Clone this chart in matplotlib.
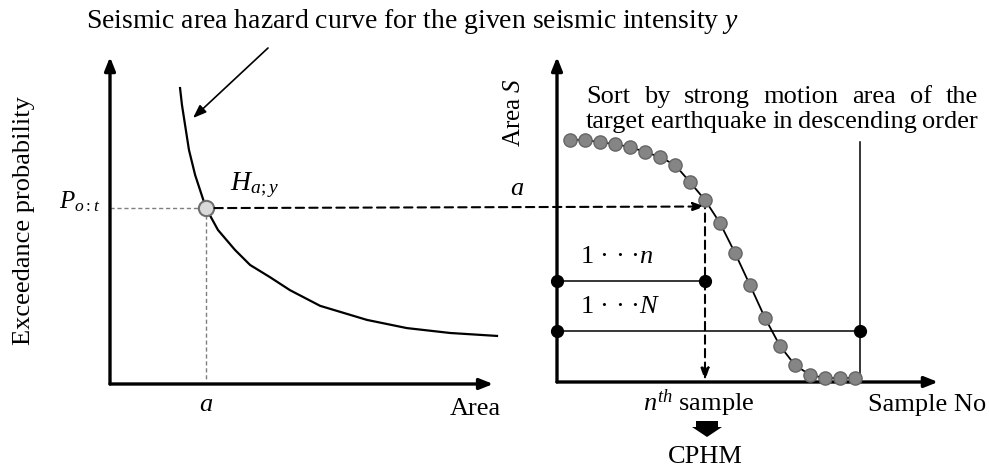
import matplotlib
matplotlib.use("Agg")
import matplotlib.pyplot as plt
from matplotlib.patches import ConnectionPatch, FancyArrow
import numpy as np

plt.rcParams['font.family'] = ['Liberation Serif', 'DejaVu Serif']
plt.rcParams['mathtext.fontset'] = 'custom'
plt.rcParams['mathtext.rm'] = 'Liberation Serif'
plt.rcParams['mathtext.it'] = 'Liberation Serif:italic'

# ---------------- data ----------------
# Left panel: seismic area hazard curve (area, exceedance probability)
hazard_area = [1.81, 1.86, 1.94, 2.04, 2.20, 2.48, 2.79, 3.23, 3.62, 4.13,
               4.65, 5.43, 6.64, 7.67, 8.79, 10.0]
hazard_prob = [0.905, 0.853, 0.792, 0.716, 0.639, 0.538, 0.471, 0.410, 0.364,
               0.327, 0.287, 0.239, 0.196, 0.171, 0.156, 0.147]
a_value = 2.48          # area a
p_value = 0.538         # P_o:t

# Right panel: sorted sample areas
sample_no = list(range(1, 21))
sample_area = [0.745, 0.745, 0.738, 0.732, 0.723, 0.708, 0.692, 0.668, 0.615,
               0.560, 0.489, 0.397, 0.298, 0.197, 0.111, 0.052, 0.022, 0.012,
               0.012, 0.012]
n_sample = 10
N_bound = 20.33
n_line_level = 0.311
N_line_level = 0.157

FS = 19
W, H = 989, 468
fig = plt.figure(figsize=(W / 100, H / 100), dpi=100)


def frac_rect(x0, y_top, x1, y_bot):
    return [x0 / W, 1 - y_bot / H, (x1 - x0) / W, (y_bot - y_top) / H]


# ------------- left panel ---------------
axL = fig.add_axes(frac_rect(110, 57, 497, 384))
axL.set_xlim(0, 10)
axL.set_ylim(0, 1)
axL.axis('off')
ap_axis = dict(arrowstyle='-|>,head_length=0.8,head_width=0.32', lw=2.4,
               color='k', shrinkA=0, shrinkB=0)
axL.annotate('', xy=(0, 1), xytext=(0, 0), xycoords='axes fraction', arrowprops=ap_axis)
axL.annotate('', xy=(0.99, 0), xytext=(0, 0), xycoords='axes fraction', arrowprops=ap_axis)
axL.plot(hazard_area, hazard_prob, color='k', lw=1.6, clip_on=False, zorder=3)
axL.plot([0, a_value - 0.2], [p_value, p_value], color='#7f7f7f', lw=1.0,
         ls=(0, (3, 2)), clip_on=False)
axL.plot([a_value, a_value], [p_value - 0.02, 0.01], color='#7f7f7f', lw=1.0,
         ls=(0, (3, 2)), clip_on=False)
axL.plot([a_value], [p_value], marker='o', ms=11, mfc='#d9d9d9', mec='#6f6f6f',
         mew=1.5, clip_on=False, zorder=5)
axL.text(-0.25, p_value + 0.02, r'$P_{o:t}$', fontsize=FS - 1, ha='right', va='center')
axL.text(a_value + 0.62, p_value + 0.07, r'$H_{a;y}$', fontsize=FS + 1, ha='left', va='center')
axL.text(a_value, -0.065, r'$a$', fontsize=FS, ha='center', va='center')
axL.text(10.1, -0.075, 'Area', fontsize=FS, ha='right', va='center')

# ------------- right panel --------------
axR = fig.add_axes(frac_rect(557, 57, 938, 382))
axR.set_xlim(0.1333, 25.533)
axR.set_ylim(0, 1)
axR.axis('off')
axR.annotate('', xy=(0, 1), xytext=(0, 0), xycoords='axes fraction', arrowprops=ap_axis)
axR.annotate('', xy=(1, 0), xytext=(0, 0), xycoords='axes fraction', arrowprops=ap_axis)
axR.plot(sample_no, sample_area, color='k', lw=1.3, marker='o', ms=9.5,
         mfc='#858585', mec='#666666', mew=1.0, clip_on=False, zorder=4)
x0R = axR.get_xlim()[0]
axR.plot([x0R, n_sample], [n_line_level] * 2, color='k', lw=1.1, marker='o',
         ms=8.5, clip_on=False, zorder=3)
axR.plot([x0R, N_bound], [N_line_level] * 2, color='k', lw=1.1, marker='o',
         ms=8.5, clip_on=False, zorder=3)
axR.plot([N_bound, N_bound], [0, 0.738], color='k', lw=1.1, clip_on=False, zorder=2)
axR.annotate('', xy=(n_sample, 0.005), xytext=(n_sample, sample_area[n_sample - 1]),
             arrowprops=dict(arrowstyle='-|>,head_length=0.7,head_width=0.25',
                             lw=1.5, ls=(0, (4, 2.5)), color='k', shrinkA=0, shrinkB=0))
axR.text(1.65, n_line_level + 0.075, '1 · · ·$n$', fontsize=FS, ha='left', va='center')
axR.text(1.65, N_line_level + 0.075, '1 · · ·$N$', fontsize=FS, ha='left', va='center')
axR.text(-2.55, 0.595, '$a$', fontsize=FS, ha='center', va='center')
axR.text(-2.75, 0.83, 'Area $S$', fontsize=FS - 1, rotation=90, ha='center', va='center')
axR.text(n_sample - 0.4, -0.065, r'$n^{th}$ sample', fontsize=FS, ha='center', va='center')
axR.text(N_bound + 0.55, -0.072, 'Sample No', fontsize=FS, ha='left', va='center')
axR.text(n_sample, -0.23, 'CPHM', fontsize=FS, ha='center', va='center')

# cross-panel dashed arrow
con = ConnectionPatch(xyA=(a_value + 0.22, p_value), coordsA=axL.transData,
                      xyB=(n_sample, sample_area[n_sample - 1] - 0.02), coordsB=axR.transData,
                      arrowstyle='-|>,head_length=0.7,head_width=0.25', lw=1.5,
                      ls=(0, (4, 2.5)), color='k', shrinkA=0, shrinkB=0, zorder=6)
fig.add_artist(con)

# ------------- overlay for free texts -----------
ov = fig.add_axes([0, 0, 1, 1])
ov.set_xlim(0, W)
ov.set_ylim(H, 0)
ov.axis('off')
ov.patch.set_alpha(0)

ov.text(413, 21, 'Seismic area hazard curve for the given seismic intensity $y$',
        fontsize=20, ha='center', va='center')
ov.annotate('', xy=(193, 118), xytext=(268, 48),
            arrowprops=dict(arrowstyle='-|>,head_length=0.8,head_width=0.3', lw=1.2,
                            color='k', shrinkA=0, shrinkB=0))
ov.text(24, 221, 'Exceedance probability', fontsize=FS, rotation=90,
        ha='center', va='center')

ov.add_patch(FancyArrow(707, 421, 0, 16, width=22, head_width=30, head_length=10,
                        length_includes_head=True, color='k', lw=0))

# justified two-line note
renderer = fig.canvas.get_renderer()


def justify(line, x0, x1, y):
    words = line.split()
    arts = [ov.text(0, y, w, fontsize=FS, ha='left', va='center') for w in words]
    inv = ov.transData.inverted()
    widths = []
    for t in arts:
        bb = t.get_window_extent(renderer)
        (xa, _), (xb, _) = inv.transform([[bb.x0, bb.y0], [bb.x1, bb.y0]])
        widths.append(xb - xa)
    gap = (x1 - x0 - sum(widths)) / (len(words) - 1)
    x = x0
    for t, w in zip(arts, widths):
        t.set_x(x)
        x += w + gap


justify('Sort by strong motion area of the', 586, 978, 97)
justify('target earthquake in descending order', 586, 978, 122)

fig.savefig('out.png', dpi=100)
